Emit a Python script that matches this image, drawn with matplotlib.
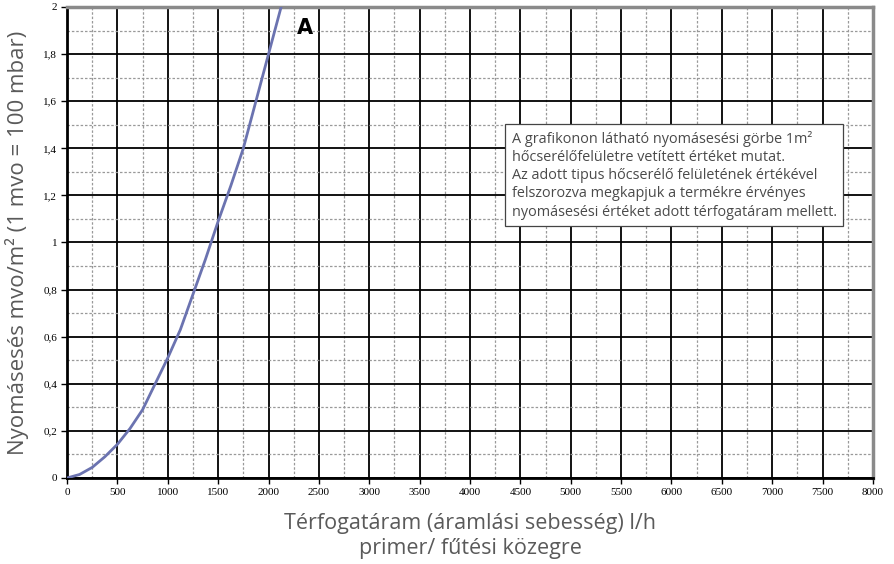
import numpy as np
import matplotlib.pyplot as plt
from matplotlib.ticker import MultipleLocator, FuncFormatter

# Curve values (flow l/h -> pressure drop mvo/m2)
flow = [0, 125, 250, 375, 500, 625, 750, 875, 1000, 1125, 1250, 1375,
        1500, 1625, 1750, 1875, 2000, 2125]
pressure = [0, 0.015, 0.045, 0.09, 0.143, 0.21, 0.29, 0.40, 0.51, 0.63,
            0.78, 0.93, 1.09, 1.24, 1.40, 1.60, 1.80, 2.0]

x_ticks = list(range(0, 8001, 500))
y_ticks = [0, 0.2, 0.4, 0.6, 0.8, 1.0, 1.2, 1.4, 1.6, 1.8, 2.0]

note = ("A grafikonon látható nyomásesési görbe 1m²\n"
        "hőcserélőfelületre vetített értéket mutat.\n"
        "Az adott tipus hőcserélő felületének értékével\n"
        "felszorozva megkapjuk a termékre érvényes\n"
        "nyomásesési értéket adott térfogatáram mellett.")

label_font = ['Open Sans', 'DejaVu Sans']

fig = plt.figure(figsize=(8.95, 5.64), dpi=100)
ax = fig.add_axes([0.0749, 0.1525, 0.9005, 0.8351])

ax.plot(flow, pressure, color='#6b73b0', lw=2, zorder=5)

ax.set_xlim(0, 8000)
ax.set_ylim(0, 2)
ax.set_xticks(x_ticks)
ax.set_yticks(y_ticks)
ax.xaxis.set_minor_locator(MultipleLocator(250))
ax.yaxis.set_minor_locator(MultipleLocator(0.1))

def comma_fmt(v, pos):
    if abs(v - round(v)) < 1e-9:
        return str(int(round(v)))
    return ('%.1f' % v).replace('.', ',')

ax.yaxis.set_major_formatter(FuncFormatter(comma_fmt))

ax.grid(which='major', color='black', lw=1.3, ls='-')
ax.grid(which='minor', color='#999999', lw=0.9, ls=(0, (2, 1.5)))
ax.set_axisbelow(True)

for side in ['left', 'bottom']:
    ax.spines[side].set_color('black')
    ax.spines[side].set_linewidth(2)
for side in ['top', 'right']:
    ax.spines[side].set_color('#8a8a8a')
    ax.spines[side].set_linewidth(2.5)

ax.tick_params(which='major', length=4, width=1, color='black',
               labelsize=8, pad=3)
ax.tick_params(which='minor', length=0)
for lbl in ax.get_xticklabels() + ax.get_yticklabels():
    lbl.set_family('Liberation Serif')

ax.set_ylabel('Nyomásesés mvo/m² (1 mvo = 100 mbar)', family=label_font,
              fontsize=16, color='#5a5a5a', labelpad=10)
ax.set_xlabel('Térfogatáram (áramlási sebesség) l/h\nprimer/ fűtési közegre',
              family=label_font, fontsize=15.5, color='#5a5a5a', labelpad=12,
              linespacing=1.2)

ax.text(2362, 1.91, 'A', fontsize=15, fontweight='bold', family='DejaVu Sans',
        ha='center', va='center', zorder=6)

ax.text(0.552, 0.643, note, transform=ax.transAxes, family=label_font,
        fontsize=10.4, color='#4a4a4a', ha='left', va='center',
        linespacing=1.3, zorder=7,
        bbox=dict(boxstyle='square,pad=0.45', fc='white', ec='#444444', lw=0.9))

fig.savefig('out.png', dpi=100)
